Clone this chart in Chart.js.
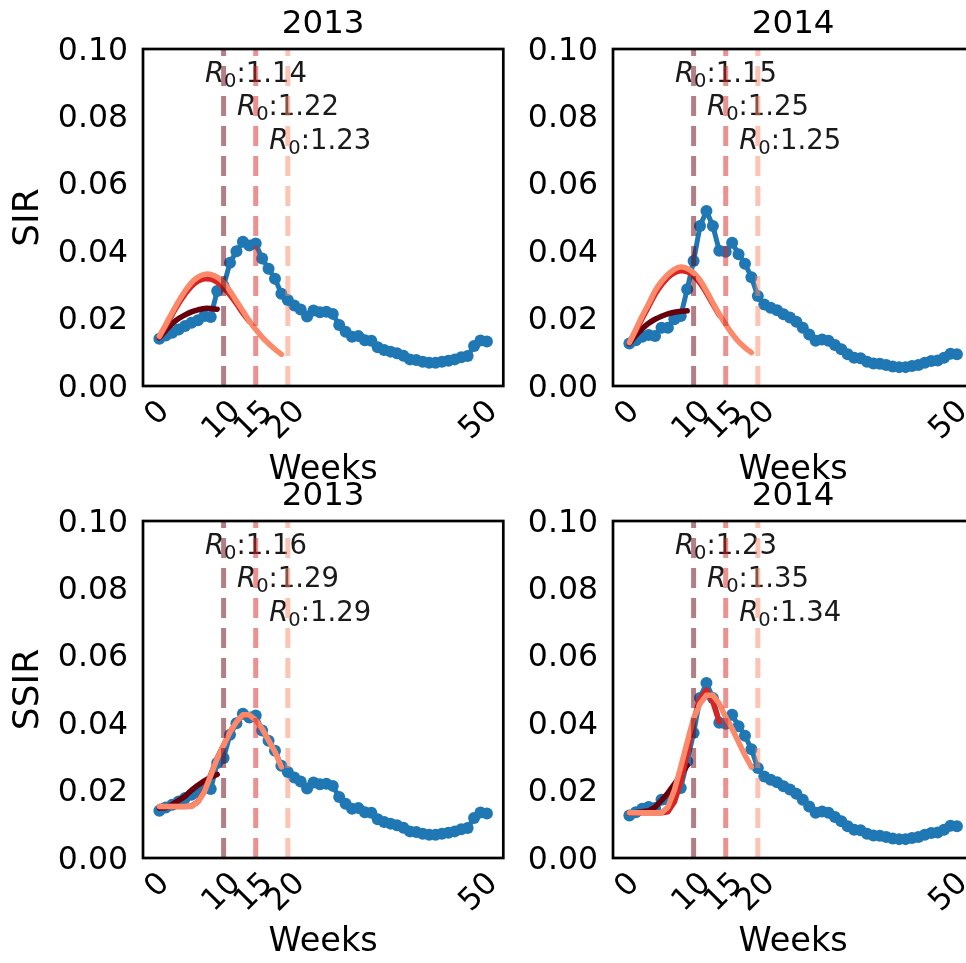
<!DOCTYPE html>
<html>
<head>
<meta charset="utf-8">
<title>SIR / SSIR fits</title>
<script src="https://cdn.jsdelivr.net/npm/chart.js@4.4.0/dist/chart.umd.min.js"></script>
<style>
  html, body { margin: 0; padding: 0; background: #fff; }
  #wrap { position: relative; width: 966px; height: 963px; overflow: hidden; background: #fff; }
  #wrap canvas { position: absolute; }
</style>
</head>
<body>
<div id="wrap">
  <canvas id="sir2013" width="520" height="500" style="left:0px;top:0px"></canvas>
  <canvas id="sir2014" width="520" height="500" style="left:470px;top:0px"></canvas>
  <canvas id="ssir2013" width="520" height="500" style="left:0px;top:472px"></canvas>
  <canvas id="ssir2014" width="520" height="500" style="left:470px;top:472px"></canvas>
</div>
<script>
// weekly incidence, week 0..51
var cases2013 = [0.0140, 0.0150, 0.0158, 0.0168, 0.0178, 0.0188, 0.0195, 0.0208, 0.0205, 0.0282,
  0.0297, 0.0366, 0.0400, 0.0428, 0.0417, 0.0423, 0.0378, 0.0348, 0.0318, 0.0274,
  0.0255, 0.0239, 0.0227, 0.0206, 0.0224, 0.0219, 0.0220, 0.0214, 0.0181, 0.0161,
  0.0146, 0.0148, 0.0136, 0.0134, 0.0115, 0.0107, 0.0102, 0.0097, 0.0090, 0.0079,
  0.0077, 0.0072, 0.0069, 0.0069, 0.0072, 0.0075, 0.0079, 0.0085, 0.0089, 0.0119,
  0.0135, 0.0132];
var cases2014 = [0.0126, 0.0136, 0.0146, 0.0151, 0.0148, 0.0173, 0.0173, 0.0198, 0.0208, 0.0287,
  0.0371, 0.0475, 0.0519, 0.0475, 0.0401, 0.0398, 0.0425, 0.0391, 0.0363, 0.0323,
  0.0267, 0.0242, 0.0232, 0.0225, 0.0213, 0.0203, 0.0191, 0.0173, 0.0153, 0.0134,
  0.0138, 0.0134, 0.0122, 0.0109, 0.0094, 0.0084, 0.0082, 0.0072, 0.0067, 0.0066,
  0.0062, 0.0058, 0.0056, 0.0056, 0.0059, 0.0062, 0.0069, 0.0074, 0.0076, 0.0084,
  0.0096, 0.0094];

// fitted curves using data up to week 10, 15 and 20
var sir2013w10 = [0.0143, 0.0165, 0.0185, 0.0200, 0.0211, 0.0220, 0.0226, 0.0230, 0.0230, 0.0228];
var sir2013w15 = [0.0145, 0.0178, 0.0212, 0.0245, 0.0273, 0.0296, 0.0311, 0.0318, 0.0317, 0.0308,
  0.0292, 0.0270, 0.0244, 0.0216, 0.0192];
var sir2013w20 = [0.0148, 0.0183, 0.0218, 0.0252, 0.0282, 0.0307, 0.0323, 0.0331, 0.0331, 0.0323,
  0.0307, 0.0282, 0.0252, 0.0223, 0.0193, 0.0168, 0.0145, 0.0126, 0.0109, 0.0094];

var sir2014w10 = [0.0126, 0.0150, 0.0170, 0.0186, 0.0198, 0.0207, 0.0214, 0.0219, 0.0222, 0.0223];
var sir2014w15 = [0.0129, 0.0163, 0.0200, 0.0236, 0.0272, 0.0300, 0.0322, 0.0336, 0.0342, 0.0339,
  0.0327, 0.0305, 0.0276, 0.0243, 0.0210];
var sir2014w20 = [0.0129, 0.0168, 0.0208, 0.0244, 0.0282, 0.0310, 0.0331, 0.0346, 0.0353, 0.0349,
  0.0336, 0.0314, 0.0282, 0.0247, 0.0213, 0.0183, 0.0155, 0.0132, 0.0114, 0.0099];

var ssir2013w10 = [0.0148, 0.0149, 0.0159, 0.0171, 0.0183, 0.0201, 0.0216, 0.0229, 0.0240, 0.0248];
var ssir2013w15 = [0.0153, 0.0153, 0.0153, 0.0153, 0.0153, 0.0154, 0.0167, 0.0199, 0.0247, 0.0296,
  0.0335, 0.0374, 0.0403, 0.0424, 0.0423];
var ssir2013w20 = [0.0153, 0.0153, 0.0153, 0.0153, 0.0153, 0.0153, 0.0166, 0.0196, 0.0245, 0.0295,
  0.0334, 0.0374, 0.0404, 0.0425, 0.0425, 0.0409, 0.0384, 0.0349, 0.0315, 0.0270];

var ssir2014w10 = [0.0134, 0.0135, 0.0137, 0.0140, 0.0151, 0.0171, 0.0193, 0.0219, 0.0245, 0.0275];
var ssir2014w15 = [0.0134, 0.0134, 0.0134, 0.0134, 0.0134, 0.0134, 0.0137, 0.0166, 0.0226, 0.0310,
  0.0409, 0.0473, 0.0498, 0.0463, 0.0404];
var ssir2014w20 = [0.0134, 0.0134, 0.0134, 0.0134, 0.0134, 0.0134, 0.0151, 0.0201, 0.0270, 0.0344,
  0.0414, 0.0458, 0.0483, 0.0483, 0.0458, 0.0418, 0.0384, 0.0344, 0.0305, 0.0270];

var r0Sir2013 = [1.14, 1.22, 1.23];
var r0Sir2014 = [1.15, 1.25, 1.25];
var r0Ssir2013 = [1.16, 1.29, 1.29];
var r0Ssir2014 = [1.23, 1.35, 1.34];

var fitWeeks = [10, 15, 20];
var xTicks = [0, 10, 15, 20, 50];
var yTicks = [0, 0.02, 0.04, 0.06, 0.08, 0.10];

var FONT = '"DejaVu Sans", sans-serif';
var fitColors = ['#67000d', '#d72322', '#fc8a6a'];
var lineColors = ['rgba(103,0,13,0.5)', 'rgba(215,35,34,0.5)', 'rgba(252,138,106,0.5)'];
var labelLevels = [0.09, 0.08, 0.07];

Chart.defaults.font.family = FONT;
Chart.defaults.color = '#000';

function toPoints(arr) {
  return arr.map(function (v, i) { return {x: i, y: v}; });
}

// frame, rotated week labels and R0 annotations
var panelDecor = {
  id: 'panelDecor',
  beforeDatasetsDraw: function (chart, args, opts) {
    var ctx = chart.ctx, xs = chart.scales.x, ys = chart.scales.y;
    ctx.save();
    ctx.fillStyle = '#1a1a1a';
    ctx.textAlign = 'left';
    ctx.textBaseline = 'alphabetic';
    fitWeeks.forEach(function (t, i) {
      var px = xs.getPixelForValue(t - 2.9);
      var py = ys.getPixelForValue(labelLevels[i]) - 1;
      ctx.font = 'italic 27.5px ' + FONT;
      ctx.fillText('R', px, py);
      var w = ctx.measureText('R').width;
      ctx.font = '19.5px ' + FONT;
      ctx.fillText('0', px + w, py + 5);
      w += ctx.measureText('0').width;
      ctx.font = '27.5px ' + FONT;
      ctx.fillText(':' + opts.r0[i].toFixed(2), px + w, py);
    });
    ctx.restore();
  },
  afterDatasetsDraw: function (chart) {
    var ctx = chart.ctx, a = chart.chartArea, xs = chart.scales.x;
    ctx.save();
    ctx.strokeStyle = '#000';
    ctx.lineWidth = 2.7;
    ctx.strokeRect(a.left, a.top, a.right - a.left, a.bottom - a.top);
    ctx.fillStyle = '#000';
    ctx.font = '31px ' + FONT;
    ctx.textAlign = 'center';
    ctx.textBaseline = 'middle';
    xs.ticks.forEach(function (t) {
      var label = String(t.value);
      var w = ctx.measureText(label).width;
      var cx = xs.getPixelForValue(t.value) - 1.5;
      var cy = a.bottom + 16 + 0.354 * (w + 14);
      ctx.save();
      ctx.translate(cx, cy);
      ctx.rotate(-Math.PI / 4);
      ctx.fillText(label, 0, 0);
      ctx.restore();
    });
    ctx.restore();
  }
};

function makePanel(id, model, year, cases, fits, r0, showYTitle, smooth) {
  var datasets = [];
  fitWeeks.forEach(function (t, i) {
    datasets.push({
      data: [{x: t, y: 0}, {x: t, y: 0.1}],
      borderColor: lineColors[i],
      borderWidth: 5,
      borderDash: [20, 10],
      pointRadius: 0,
      order: i
    });
  });
  for (var k = fits.length - 1; k >= 0; k--) {
    datasets.push({
      data: toPoints(fits[k]),
      borderColor: fitColors[k],
      borderWidth: 5.5,
      borderCapStyle: 'round',
      borderJoinStyle: 'round',
      pointRadius: 0,
      tension: smooth ? 0.35 : 0,
      order: 3 + (fits.length - 1 - k)
    });
  }
  datasets.push({
    data: toPoints(cases),
    borderColor: '#1f77b4',
    backgroundColor: '#1f77b4',
    borderWidth: 5,
    pointRadius: 6,
    pointBorderWidth: 0,
    pointBackgroundColor: '#1f77b4',
    tension: 0,
    order: 10
  });

  return new Chart(document.getElementById(id), {
    type: 'line',
    data: {datasets: datasets},
    plugins: [panelDecor],
    options: {
      responsive: false,
      animation: false,
      events: [],
      layout: {padding: {left: 0, right: 16.7, top: 0, bottom: 0}},
      plugins: {
        legend: {display: false},
        tooltip: {enabled: false},
        title: {
          display: true,
          text: year,
          fullSize: false,
          color: '#000',
          font: {size: 32.5, weight: 'normal'},
          padding: {top: 5.5, bottom: 4.5}
        },
        panelDecor: {r0: r0}
      },
      scales: {
        x: {
          type: 'linear',
          min: -2.55,
          max: 53.55,
          grid: {display: false, drawTicks: false},
          border: {display: false},
          ticks: {display: false},
          afterBuildTicks: function (s) {
            s.ticks = xTicks.map(function (v) { return {value: v}; });
          },
          afterFit: function (s) { s.height = 114; },
          title: {
            display: true,
            text: 'Weeks',
            color: '#000',
            font: {size: 33.5},
            padding: {top: 0, bottom: 9.5}
          }
        },
        y: {
          type: 'linear',
          min: 0,
          max: 0.1,
          grid: {display: false, drawTicks: false},
          border: {display: false},
          afterBuildTicks: function (s) {
            s.ticks = yTicks.map(function (v) { return {value: v}; });
          },
          ticks: {
            color: '#000',
            font: {size: 31.5},
            padding: 15,
            labelOffset: 2.5,
            callback: function (v) { return Number(v).toFixed(2); }
          },
          afterFit: function (s) { s.width = 143; },
          title: {
            display: showYTitle,
            text: model,
            color: '#000',
            font: {size: 36},
            padding: {top: 7.2, bottom: 0}
          }
        }
      }
    }
  });
}

makePanel('sir2013', 'SIR', '2013', cases2013, [sir2013w10, sir2013w15, sir2013w20], r0Sir2013, true, true);
makePanel('sir2014', 'SIR', '2014', cases2014, [sir2014w10, sir2014w15, sir2014w20], r0Sir2014, false, true);
makePanel('ssir2013', 'SSIR', '2013', cases2013, [ssir2013w10, ssir2013w15, ssir2013w20], r0Ssir2013, true, false);
makePanel('ssir2014', 'SSIR', '2014', cases2014, [ssir2014w10, ssir2014w15, ssir2014w20], r0Ssir2014, false, false);
</script>
</body>
</html>
